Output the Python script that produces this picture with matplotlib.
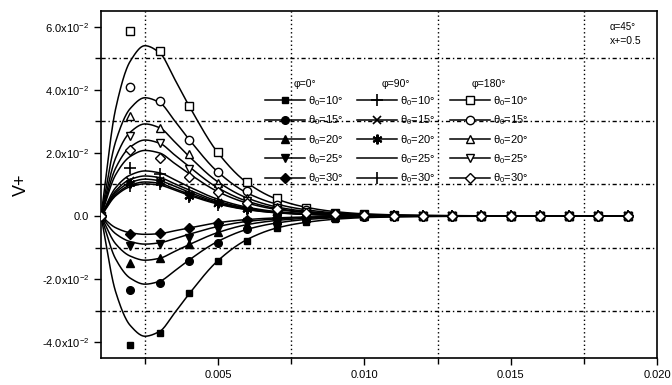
import numpy as np
import matplotlib
matplotlib.use("Agg")
import matplotlib.pyplot as plt
from matplotlib.ticker import FixedLocator

plt.rcParams['font.family'] = ['Liberation Sans', 'DejaVu Sans']
plt.rcParams['mathtext.fontset'] = 'custom'
plt.rcParams['mathtext.rm'] = 'Liberation Sans'
plt.rcParams['mathtext.it'] = 'Liberation Sans:italic'

# ---------------- data (V+ in units of 1e-2) ----------------
X_MARK = [0.001, 0.002, 0.003, 0.004, 0.005, 0.006, 0.007, 0.008, 0.009, 0.010,
          0.011, 0.012, 0.013, 0.014, 0.015, 0.016, 0.017, 0.018, 0.019]
THETA_LABELS = ["10", "15", "20", "25", "30"]
PHI_TITLES = ["φ=0°", "φ=90°", "φ=180°"]

# markers, phi = 0 deg
phi0_t10 = [0, -4.10, -3.71, -2.44, -1.43, -0.79, -0.38, -0.18, -0.08, -0.03, -0.01, 0, 0, 0, 0, 0, 0, 0, 0]
phi0_t15 = [0, -2.35, -2.13, -1.43, -0.86, -0.42, -0.22, -0.10, -0.05, -0.02, -0.01, 0, 0, 0, 0, 0, 0, 0, 0]
phi0_t20 = [0, -1.49, -1.33, -0.90, -0.52, -0.28, -0.14, -0.07, -0.03, -0.01, 0, 0, 0, 0, 0, 0, 0, 0, 0]
phi0_t25 = [0, -0.95, -0.89, -0.69, -0.40, -0.20, -0.10, -0.05, -0.02, -0.01, 0, 0, 0, 0, 0, 0, 0, 0, 0]
phi0_t30 = [0, -0.58, -0.54, -0.37, -0.23, -0.12, -0.07, -0.03, -0.01, 0, 0, 0, 0, 0, 0, 0, 0, 0, 0]

# markers, phi = 90 deg (theta 25 has no marker)
phi90_t10 = [0, 1.52, 1.33, 0.73, 0.45, 0.26, 0.14, 0.07, 0.03, 0.01, 0, 0, 0, 0, 0, 0, 0, 0, 0]
phi90_t15 = [0, 1.10, 1.12, 0.68, 0.42, 0.24, 0.13, 0.06, 0.03, 0.01, 0, 0, 0, 0, 0, 0, 0, 0, 0]
phi90_t20 = [0, 1.05, 1.08, 0.65, 0.40, 0.23, 0.12, 0.06, 0.03, 0.01, 0, 0, 0, 0, 0, 0, 0, 0, 0]
phi90_t25 = [0, 1.00, 1.04, 0.62, 0.38, 0.22, 0.11, 0.05, 0.02, 0.01, 0, 0, 0, 0, 0, 0, 0, 0, 0]
phi90_t30 = [0, 0.95, 1.00, 0.60, 0.36, 0.21, 0.11, 0.05, 0.02, 0.01, 0, 0, 0, 0, 0, 0, 0, 0, 0]

# markers, phi = 180 deg
phi180_t10 = [0, 5.87, 5.24, 3.49, 2.03, 1.08, 0.57, 0.25, 0.11, 0.05, 0.02, 0.01, 0, 0, 0, 0, 0, 0, 0]
phi180_t15 = [0, 4.10, 3.65, 2.41, 1.40, 0.79, 0.36, 0.18, 0.08, 0.03, 0.01, 0, 0, 0, 0, 0, 0, 0, 0]
phi180_t20 = [0, 3.17, 2.80, 1.97, 1.05, 0.58, 0.29, 0.14, 0.06, 0.03, 0.01, 0, 0, 0, 0, 0, 0, 0, 0]
phi180_t25 = [0, 2.54, 2.32, 1.49, 0.88, 0.47, 0.24, 0.12, 0.05, 0.02, 0.01, 0, 0, 0, 0, 0, 0, 0, 0]
phi180_t30 = [0, 2.10, 1.85, 1.24, 0.76, 0.41, 0.21, 0.10, 0.05, 0.02, 0.01, 0, 0, 0, 0, 0, 0, 0, 0]

# fitted curves read at these abscissae
X_CURVE = [0.001, 0.0015, 0.002, 0.0025, 0.003, 0.0035, 0.004, 0.005, 0.006, 0.007,
           0.008, 0.009, 0.010, 0.012, 0.015, 0.019]
fit0_t10 = [0, -2.40, -3.47, -3.81, -3.66, -3.09, -2.48, -1.41, -0.74, -0.38, -0.20, -0.10, -0.05, -0.015, -0.004, 0]
fit0_t15 = [0, -1.36, -1.97, -2.16, -2.07, -1.75, -1.40, -0.80, -0.42, -0.22, -0.11, -0.056, -0.028, -0.009, -0.002, 0]
fit0_t20 = [0, -0.88, -1.27, -1.40, -1.34, -1.13, -0.91, -0.52, -0.27, -0.14, -0.073, -0.036, -0.018, -0.006, -0.001, 0]
fit0_t25 = [0, -0.56, -0.81, -0.89, -0.85, -0.72, -0.58, -0.33, -0.17, -0.09, -0.046, -0.023, -0.012, -0.004, -0.001, 0]
fit0_t30 = [0, -0.37, -0.53, -0.58, -0.56, -0.47, -0.38, -0.21, -0.11, -0.058, -0.03, -0.015, -0.008, -0.002, 0, 0]

fit90_t10 = [0, 0.90, 1.30, 1.43, 1.37, 1.16, 0.93, 0.53, 0.28, 0.14, 0.074, 0.037, 0.019, 0.006, 0.001, 0]
fit90_t15 = [0, 0.80, 1.16, 1.27, 1.22, 1.03, 0.83, 0.47, 0.25, 0.127, 0.066, 0.033, 0.017, 0.005, 0.001, 0]
fit90_t20 = [0, 0.74, 1.06, 1.17, 1.12, 0.95, 0.76, 0.43, 0.23, 0.117, 0.061, 0.030, 0.015, 0.005, 0.001, 0]
fit90_t25 = [0, 0.68, 0.98, 1.08, 1.04, 0.87, 0.70, 0.40, 0.21, 0.108, 0.056, 0.028, 0.014, 0.004, 0.001, 0]
fit90_t30 = [0, 0.64, 0.93, 1.02, 0.98, 0.83, 0.66, 0.38, 0.20, 0.102, 0.053, 0.027, 0.013, 0.004, 0.001, 0]

fit180_t10 = [0, 3.40, 4.91, 5.40, 5.18, 4.37, 3.51, 2.00, 1.05, 0.54, 0.28, 0.14, 0.07, 0.02, 0.005, 0]
fit180_t15 = [0, 2.36, 3.41, 3.75, 3.60, 3.04, 2.44, 1.39, 0.73, 0.38, 0.20, 0.10, 0.05, 0.015, 0.004, 0]
fit180_t20 = [0, 1.84, 2.66, 2.92, 2.80, 2.37, 1.90, 1.08, 0.57, 0.29, 0.15, 0.08, 0.04, 0.012, 0.003, 0]
fit180_t25 = [0, 1.52, 2.19, 2.41, 2.31, 1.95, 1.57, 0.89, 0.47, 0.24, 0.125, 0.063, 0.031, 0.01, 0.002, 0]
fit180_t30 = [0, 1.31, 1.89, 2.08, 2.00, 1.68, 1.35, 0.77, 0.41, 0.21, 0.11, 0.054, 0.027, 0.008, 0.002, 0]

SCALE = 1e-2

# ---------------- helpers ----------------
def pchip(x, y, xn):
    x = np.asarray(x, float); y = np.asarray(y, float)
    h = np.diff(x); d = np.diff(y) / h
    m = np.zeros_like(y)
    for k in range(1, len(y) - 1):
        if d[k - 1] * d[k] > 0:
            w1 = 2 * h[k] + h[k - 1]; w2 = h[k] + 2 * h[k - 1]
            m[k] = (w1 + w2) / (w1 / d[k - 1] + w2 / d[k])
    m[0] = d[0]; m[-1] = d[-1]
    idx = np.clip(np.searchsorted(x, xn) - 1, 0, len(x) - 2)
    t = (xn - x[idx]) / h[idx]
    h00 = 2 * t**3 - 3 * t**2 + 1; h10 = t**3 - 2 * t**2 + t
    h01 = -2 * t**3 + 3 * t**2; h11 = t**3 - t**2
    return h00 * y[idx] + h10 * h[idx] * m[idx] + h01 * y[idx + 1] + h11 * h[idx] * m[idx + 1]

groups = [
    ([phi0_t10, phi0_t15, phi0_t20, phi0_t25, phi0_t30],
     [fit0_t10, fit0_t15, fit0_t20, fit0_t25, fit0_t30],
     [dict(marker='s', mfc='k', ms=5), dict(marker='o', mfc='k', ms=5.5),
      dict(marker='^', mfc='k', ms=6), dict(marker='v', mfc='k', ms=6),
      dict(marker='D', mfc='k', ms=5)]),
    ([phi90_t10, phi90_t15, phi90_t20, phi90_t25, phi90_t30],
     [fit90_t10, fit90_t15, fit90_t20, fit90_t25, fit90_t30],
     [dict(marker='+', ms=8, mew=1.2), dict(marker='x', ms=6, mew=1.2),
      dict(marker=(6, 2, 0), ms=7, mew=1.5), dict(marker='None'),
      dict(marker='|', ms=8, mew=1.2)]),
    ([phi180_t10, phi180_t15, phi180_t20, phi180_t25, phi180_t30],
     [fit180_t10, fit180_t15, fit180_t20, fit180_t25, fit180_t30],
     [dict(marker='s', mfc='w', ms=5.5), dict(marker='o', mfc='w', ms=6),
      dict(marker='^', mfc='w', ms=6), dict(marker='v', mfc='w', ms=6),
      dict(marker='D', mfc='w', ms=5)]),
]

fig = plt.figure(figsize=(6.72, 3.85), dpi=100)
ax = fig.add_axes([101 / 672, 1 - 358 / 385, 556 / 672, 347 / 385])

xs = np.linspace(X_CURVE[0], X_CURVE[-1], 800)
legends = []
for gi, (marks, fits, styles) in enumerate(groups):
    handles = []
    for si in range(5):
        ax.plot(xs, pchip(X_CURVE, fits[si], xs) * SCALE, color='k', lw=1.1, zorder=2)
        st = styles[si]
        if st.get('marker') != 'None':
            ax.plot(X_MARK, np.array(marks[si]) * SCALE, ls='none', color='k',
                    mec='k', zorder=3 + gi, **st)
        h, = ax.plot([], [], color='k', lw=1.1, mec='k', **st)
        handles.append(h)
    labels = [r"θ$_0$=" + t + "°" for t in THETA_LABELS]
    lx = [0.295, 0.460, 0.627][gi]
    leg = ax.legend(handles, labels, title=PHI_TITLES[gi], loc='upper left',
                    bbox_to_anchor=(lx, 0.805), frameon=False, fontsize=8,
                    title_fontsize=7.5, handlelength=3.6, handletextpad=0.3,
                    labelspacing=0.5, borderaxespad=0, borderpad=0)
    legends.append(leg)
for leg in legends[:-1]:
    ax.add_artist(leg)

ax.set_xlim(0.001, 0.020)
ax.set_ylim(-4.5e-2, 6.5e-2)
ax.xaxis.set_major_locator(FixedLocator([0.005, 0.010, 0.015, 0.020]))
ax.xaxis.set_minor_locator(FixedLocator([0.0025, 0.0075, 0.0125, 0.0175]))
ax.set_xticklabels(["0.005", "0.010", "0.015", "0.020"])
yt = [-4e-2, -2e-2, 0, 2e-2, 4e-2, 6e-2]
ax.yaxis.set_major_locator(FixedLocator(yt))
ax.yaxis.set_minor_locator(FixedLocator([-3e-2, -1e-2, 1e-2, 3e-2, 5e-2]))
ax.set_yticklabels(["-4.0x10$^{-2}$", "-2.0x10$^{-2}$", "0.0", "2.0x10$^{-2}$",
                    "4.0x10$^{-2}$", "6.0x10$^{-2}$"])
ax.tick_params(which='both', direction='out', labelsize=8, width=1)
ax.tick_params(which='major', length=5)
ax.tick_params(which='minor', length=4)
ax.grid(False)
ax.xaxis.grid(True, which='minor', color='k', ls=(0, (1, 2)), lw=1.0)
ax.yaxis.grid(True, which='minor', color='k', ls=(0, (3, 2, 1, 2)), lw=1.0)
for sp in ax.spines.values():
    sp.set_linewidth(1.2)
ax.set_ylabel("V+", fontsize=13, labelpad=8)
ax.text(0.915, 0.945, "α=45°", transform=ax.transAxes, fontsize=7)
ax.text(0.915, 0.905, "x+=0.5", transform=ax.transAxes, fontsize=7.5)

fig.savefig("out.png", dpi=100)
